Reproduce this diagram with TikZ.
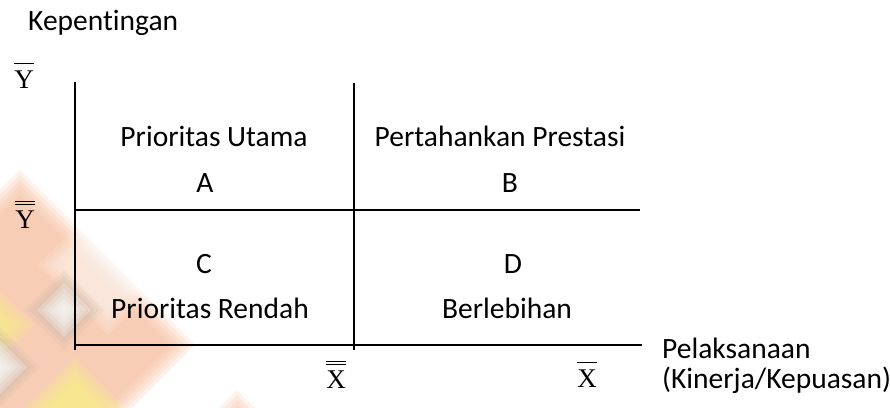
\documentclass[tikz,border=0pt]{standalone}
\usepackage{fontspec}
\setmainfont{Carlito}[Ligatures=CommonOff]
\newfontfamily\tmsfont{Liberation Serif}
\newcommand\sbar[1]{\leavevmode\vbox{\hrule height 1.3pt\kern 6pt\hbox{#1}}}
\newcommand\dbar[1]{\leavevmode\vbox{\hrule height 1.2pt\kern 2.2pt\hrule height 1.2pt\kern 5pt\hbox{#1}}}
\newcommand\wmdiamond[5]{%
  \foreach \k in {0,...,5}{%
    \fill[#4,opacity=#5] (#1,#2-#3+\k*5) -- (#1+#3-\k*5,#2) -- (#1,#2+#3-\k*5) -- (#1-#3+\k*5,#2) -- cycle;}}
\definecolor{peach}{RGB}{246,188,155}
\definecolor{wmyellow}{RGB}{250,242,130}
\definecolor{wmgray}{RGB}{180,175,165}
\tikzset{
  axis/.style={line width=1.6pt, black},
  lbl/.style={font=\fontsize{29.5}{35}\selectfont, inner sep=0pt, anchor=base},
  mlbl/.style={font=\tmsfont\fontsize{27}{32}\selectfont, inner sep=0pt, anchor=base},
}
\begin{document}
\begin{tikzpicture}[x=1pt,y=-1pt]
\useasboundingbox (0,0) rectangle (890,407);
% watermark
\begin{scope}
\clip (0,0) rectangle (890,407);
\wmdiamond{20}{345}{175}{peach}{0.2}
\wmdiamond{108}{265}{70}{white}{0.12}
\wmdiamond{-10}{325}{45}{wmyellow}{0.16}
\wmdiamond{75}{412}{55}{wmyellow}{0.18}
\wmdiamond{64}{310}{40}{wmgray}{0.12}
\wmdiamond{64}{310}{27}{white}{0.25}
\wmdiamond{0}{367}{40}{wmgray}{0.12}
\wmdiamond{0}{367}{27}{white}{0.25}
\wmdiamond{237}{432}{42}{peach}{0.18}
\end{scope}
% axes and grid
\coordinate (lt) at (75,82);
\coordinate (lb) at (75,350);
\coordinate (mt) at (354,83);
\coordinate (mb) at (354,350);
\coordinate (hl) at (75,210);
\coordinate (hr) at (640,210);
\coordinate (bl) at (75,345);
\coordinate (br) at (642,345);
\draw[axis] (lt) -- (lb);
\draw[axis] (mt) -- (mb);
\draw[axis] (hl) -- (hr);
\draw[axis] (bl) -- (br);
% texts
\node[lbl, anchor=base west] (kep) at (28,30) {Kepentingan};
\node[lbl] (pu) at (214,146) {Prioritas Utama};
\node[lbl] (a) at (205,192) {A};
\node[lbl] (pp) at (500,146) {Pertahankan Prestasi};
\node[lbl] (b) at (510,192) {B};
\node[lbl] (c) at (204,273) {C};
\node[lbl] (pr) at (210,318) {Prioritas Rendah};
\node[lbl] (d) at (513,273) {D};
\node[lbl] (bh) at (507,318) {Berlebihan};
\node[lbl, anchor=base west] (pel) at (662,358) {Pelaksanaan};
\node[lbl, anchor=base west] (kin) at (662,388) {(Kinerja/Kepuasan)};
\node[mlbl] (ybar) at (24,88) {\sbar{Y}};
\node[mlbl] (ydbar) at (25,228) {\dbar{Y}};
\node[mlbl] (xdbar) at (336,388) {\dbar{X}};
\node[mlbl] (xbar) at (587,387) {\sbar{X}};
\end{tikzpicture}
\end{document}
